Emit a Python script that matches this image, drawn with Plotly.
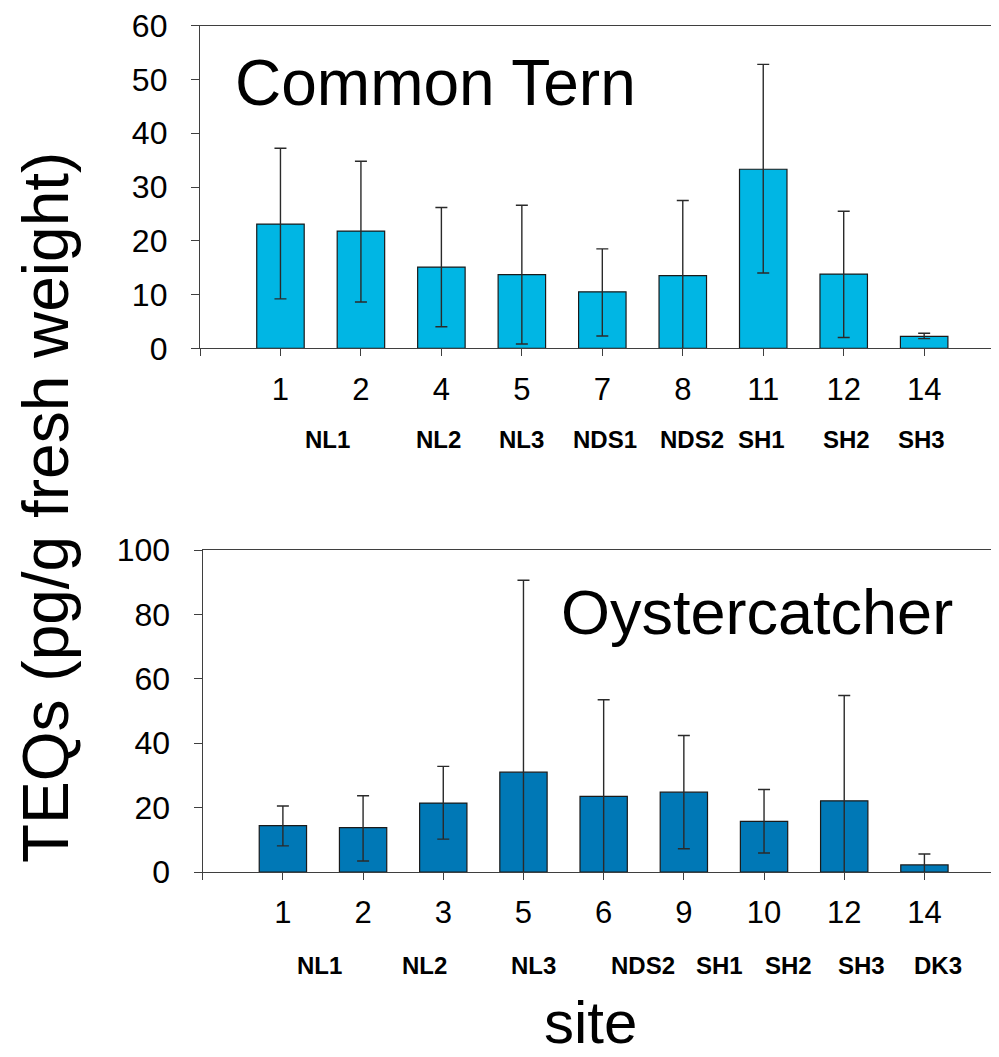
import plotly.graph_objects as go

# ---------------- data ----------------
tern_sites = ["1", "2", "4", "5", "7", "8", "11", "12", "14"]
tern_teq = [23.1, 21.8, 15.1, 13.7, 10.5, 13.5, 33.3, 13.8, 2.2]
tern_err_plus = [14.1, 13.0, 11.1, 12.9, 8.0, 14.0, 19.5, 11.7, 0.6]
tern_err_minus = [13.9, 13.2, 11.1, 12.9, 8.2, 14.0, 19.3, 11.8, 0.4]
tern_regions = ["NL1", "NL2", "NL3", "NDS1", "NDS2", "SH1", "SH2", "SH3"]

oyster_sites = ["1", "2", "3", "5", "6", "9", "10", "12", "14"]
oyster_teq = [14.4, 13.8, 21.4, 31.0, 23.5, 24.8, 15.7, 22.1, 2.2]
oyster_err_plus = [6.1, 9.9, 11.4, 59.6, 30.0, 17.6, 9.9, 32.7, 3.4]
oyster_err_minus = [6.3, 10.4, 11.2, 59.6, 30.0, 17.6, 9.8, 32.7, 3.4]
oyster_regions = ["NL1", "NL2", "NL3", "NDS2", "SH1", "SH2", "SH3", "DK3"]

# ---------------- layout helpers (positions, not data) ----------------
tern_region_pos = [0.58, 1.97, 2.99, 4.03, 5.12, 5.98, 7.04, 7.97]
oyster_region_pos = [0.46, 1.77, 3.13, 4.49, 5.45, 6.31, 7.21, 8.17]

OFF = 8  # page body margin
W, H = 999 - OFF, 1057 - OFF
FONT = "Liberation Sans, Arial, sans-serif"
AXC = "#3f3f3f"

def py(px):  # px in fig coordinates (from top)
    return 1 - px / H

def px_x(px):
    return px / W

fig = go.Figure()

def add_bars(xa, ya, vals, ep, em, color):
    fig.add_trace(go.Bar(
        x=list(range(len(vals))), y=vals, xaxis=xa, yaxis=ya,
        width=0.59, marker=dict(color=color, line=dict(color="#1a1a1a", width=1.2)),
        error_y=dict(type="data", symmetric=False, array=ep, arrayminus=em,
                     color="#2a2a2a", thickness=1.4, width=6),
        showlegend=False, hoverinfo="y",
    ))

add_bars("x", "y", tern_teq, tern_err_plus, tern_err_minus, "#00B6E4")
add_bars("x2", "y2", oyster_teq, oyster_err_plus, oyster_err_minus, "#0078B6")

def xaxis_cfg(domain, sites):
    return dict(
        domain=domain, range=[-1, 8.93],
        tickvals=[-1] + list(range(len(sites))), ticktext=[""] + sites,
        ticks="outside", ticklen=7, tickwidth=1.3, tickcolor=AXC,
        showline=True, linecolor=AXC, linewidth=1.3, mirror=True,
        showgrid=False, zeroline=False, automargin=False,
        tickfont=dict(family=FONT, size=31, color="black"),
        ticklabelstandoff=6,
    )

def yaxis_cfg(domain, rng, dtick, anchor):
    return dict(
        domain=domain, range=rng, dtick=dtick, anchor=anchor,
        ticks="outside", ticklen=8, tickwidth=1.3, tickcolor=AXC,
        showline=True, linecolor=AXC, linewidth=1.3, mirror=False,
        showgrid=False, zeroline=False, automargin=False,
        tickfont=dict(family=FONT, size=32, color="black"),
        ticklabelstandoff=17, ticklabeloverflow="allow",
    )

fig.update_layout(
    width=W, height=H,
    margin=dict(l=0, r=0, t=0, b=0),
    paper_bgcolor="white", plot_bgcolor="white",
    xaxis=dict(xaxis_cfg([px_x(192), 1], tern_sites), anchor="y"),
    yaxis=yaxis_cfg([py(340.3), py(17.7)], [0, 60], 10, "x"),
    xaxis2=dict(xaxis_cfg([px_x(194.7), 1], oyster_sites), anchor="y2"),
    yaxis2=yaxis_cfg([py(864), py(542)], [0, 100], 20, "x2"),
)

ann = []
for lab, pos in zip(tern_regions, tern_region_pos):
    ann.append(dict(x=pos, y=py(431), xref="x", yref="paper", text=lab, showarrow=False,
                    xanchor="center", yanchor="middle",
                    font=dict(family=FONT, size=24, color="black", weight="bold")))
for lab, pos in zip(oyster_regions, oyster_region_pos):
    ann.append(dict(x=pos, y=py(957), xref="x2", yref="paper", text=lab, showarrow=False,
                    xanchor="center", yanchor="middle",
                    font=dict(family=FONT, size=24, color="black", weight="bold")))

ann.append(dict(x=px_x(225), y=py(75), xref="paper", yref="paper", text="Common Tern",
                showarrow=False, xanchor="left", yanchor="middle",
                font=dict(family=FONT, size=64, color="black")))
ann.append(dict(x=px_x(551), y=py(604), xref="paper", yref="paper", text="Oystercatcher",
                showarrow=False, xanchor="left", yanchor="middle",
                font=dict(family=FONT, size=63, color="black")))
ann.append(dict(x=px_x(38), y=py(500), xref="paper", yref="paper",
                text="TEQs (pg/g fresh weight)", textangle=-90,
                showarrow=False, xanchor="center", yanchor="middle",
                font=dict(family=FONT, size=64, color="black")))
ann.append(dict(x=px_x(582), y=py(1014), xref="paper", yref="paper", text="site",
                showarrow=False, xanchor="center", yanchor="middle",
                font=dict(family=FONT, size=60, color="black")))

fig.update_layout(annotations=ann)

fig.write_html("out.html")
